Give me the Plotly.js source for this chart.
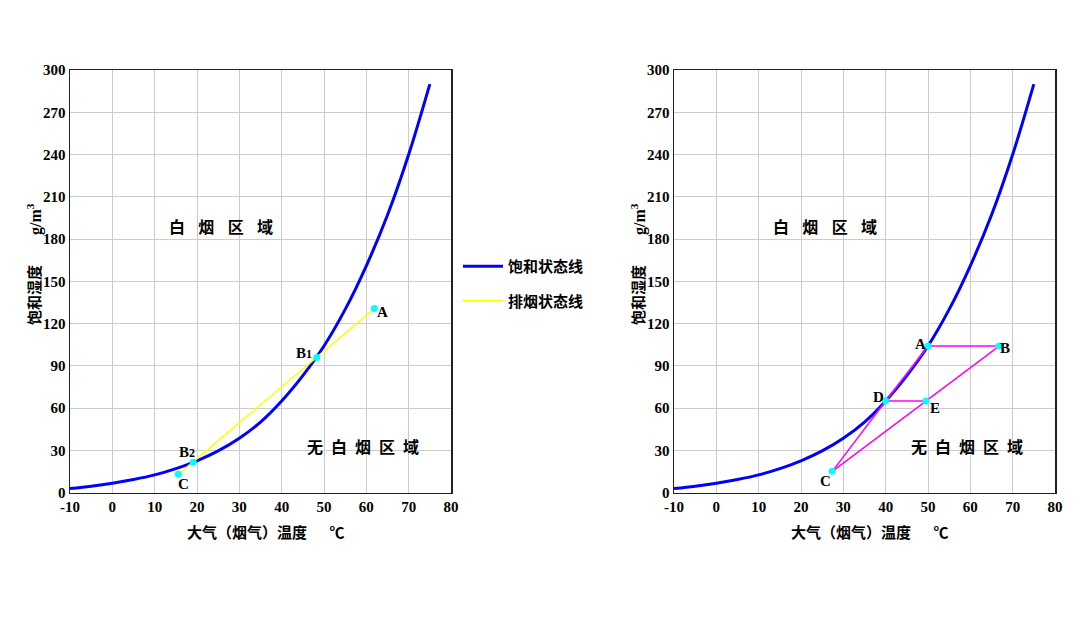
<!DOCTYPE html>
<html>
<head>
<meta charset="utf-8">
<script src="https://cdn.plot.ly/plotly-3.0.1.min.js"></script>
<style>html,body{margin:0;padding:0;background:#fff;}#chart{width:1092px;height:624px;}</style>
</head>
<body>
<div id="chart"></div>
<script>
// ---- data ----
const curveTemp = [-10, -5, 0, 5, 10, 15, 20, 25, 30, 35, 40, 45, 50, 55, 60, 65, 70, 75];
const curveHum  = [2.8, 4.5, 6.6, 9.2, 12.5, 17, 22.5, 29.5, 38.5, 50, 65, 83, 104, 130, 161, 197, 240, 290];

const leftNames = ["A", "B1", "B2", "C"];
const leftTemp  = [61.9, 48.3, 19.1, 15.6];
const leftHum   = [130.6, 95.9, 21.4, 12.9];

const rightNames = ["A", "B", "C", "D", "E"];
const rightTemp  = [50, 66.8, 27.4, 40, 49.5];
const rightHum   = [104, 104, 15, 65, 65];
// magenta segments drawn between these named points
const rightSegments = [["A","B"],["B","C"],["C","D"],["D","A"],["D","E"]];

const xTickVals = [-10, 0, 10, 20, 30, 40, 50, 60, 70, 80];
const xTickText = ["-10", "0", "10", "20", "30", "40", "50", "60", "70", "80"];
const yTickVals = [0, 30, 60, 90, 120, 150, 180, 210, 240, 270, 300];
const yTickText = ["0", "30", "60", "90", "120", "150", "180", "210", "240", "270", "300"];

const seriesNames = ["饱和状态线", "排烟状态线"];
const yTitleMain = "饱和湿度";
const yTitleUnit = "g/m<sup>3</sup>";
const xTitle = "大气（烟气）温度\u2003\u2002℃";
const whiteZone = "白\u2002\u2004烟\u2002\u2004区\u2002\u2004域";
const noWhiteZone = "无\u2002白\u2002烟\u2002区\u2002域";

// ---- helpers ----
const W = 1092, H = 624;
const px = v => v / W;
const py = v => 1 - v / H;
const CJK = "'Noto Sans CJK SC', 'Noto Sans', sans-serif";
const NUM = "'Liberation Serif', 'DejaVu Serif', serif";

const traces = [];
// left plot
traces.push({x: curveTemp, y: curveHum, xaxis: "x", yaxis: "y", mode: "lines", name: seriesNames[0],
  line: {color: "#0000ff", width: 3, shape: "spline", smoothing: 1}, legendgroup: "g1", showlegend: true});
traces.push({x: leftTemp, y: leftHum, xaxis: "x", yaxis: "y", mode: "lines", name: seriesNames[1],
  line: {color: "#ffff00", width: 1.5}, legendgroup: "g2", showlegend: true});
traces.push({x: leftTemp, y: leftHum, xaxis: "x", yaxis: "y", mode: "markers", showlegend: false,
  marker: {color: "#00ffff", size: 7}});
// right plot
traces.push({x: curveTemp, y: curveHum, xaxis: "x2", yaxis: "y2", mode: "lines", showlegend: false,
  line: {color: "#0000ff", width: 3, shape: "spline", smoothing: 1}});
const segX = [], segY = [];
rightSegments.forEach(([a, b]) => {
  const i = rightNames.indexOf(a), j = rightNames.indexOf(b);
  segX.push(rightTemp[i], rightTemp[j], null);
  segY.push(rightHum[i], rightHum[j], null);
});
traces.push({x: segX, y: segY, xaxis: "x2", yaxis: "y2", mode: "lines", showlegend: false,
  line: {color: "#ff00ff", width: 1.5}, connectgaps: false});
traces.push({x: rightTemp, y: rightHum, xaxis: "x2", yaxis: "y2", mode: "markers", showlegend: false,
  marker: {color: "#00ffff", size: 7}});

function xa(domain, anchor) {
  return {domain: domain, anchor: anchor, range: [-10, 80], tickmode: "array", tickvals: xTickVals, ticktext: xTickText,
    showgrid: true, gridcolor: "#cccccc", gridwidth: 1, zeroline: false, showline: true, linecolor: "#222",
    linewidth: 1.5, mirror: true, ticks: "", tickfont: {family: NUM, size: 15, color: "#000", weight: "bold"},
    fixedrange: true};
}
function ya(anchor) {
  return {domain: [py(492.5), py(70)], range: [0, 300], tickmode: "array", tickvals: yTickVals, ticktext: yTickText,
    anchor: anchor, showgrid: true, gridcolor: "#cccccc", gridwidth: 1, zeroline: false, showline: true,
    linecolor: "#222", linewidth: 1.5, mirror: true, ticks: "", tickfont: {family: NUM, size: 15, color: "#000", weight: "bold"},
    fixedrange: true};
}

const ann = [];
function lbl(text, x, y, xr, yr, size, family, extra) {
  ann.push(Object.assign({text: text, x: x, y: y, xref: xr, yref: yr, showarrow: false,
    xanchor: "center", yanchor: "middle",
    font: {family: family, size: size, color: "#000", weight: "bold"}}, extra || {}));
}
// point labels left
const leftLabelPos = {A: [63.7, 128.5], B1: [45.2, 99], B2: [17.6, 28.7], C: [16.9, 6]};
leftNames.forEach(n => {
  const t = n.length > 1 ? n[0] + "<span style='font-size:12px'>" + n[1] + "</span>" : n;
  lbl(t, leftLabelPos[n][0], leftLabelPos[n][1], "x", "y", 15, NUM);
});
const rightLabelPos = {A: [48.3, 105.5], B: [68.1, 102.5], C: [25.9, 8.5], D: [38.4, 67.5], E: [51.7, 60]};
rightNames.forEach(n => lbl(n, rightLabelPos[n][0], rightLabelPos[n][1], "x2", "y2", 15, NUM));

// zone texts
lbl(whiteZone, 25.7, 189.5, "x", "y", 16, CJK);
lbl(noWhiteZone, 59.3, 32.7, "x", "y", 16, CJK);
lbl(whiteZone, 25.7, 189.5, "x2", "y2", 16, CJK);
lbl(noWhiteZone, 59.3, 32.7, "x2", "y2", 16, CJK);

// axis titles
[0, 604].forEach(off => {
  lbl(yTitleMain, px(33 + off), py(295), "paper", "paper", 15, CJK, {textangle: -90});
  lbl(yTitleUnit, px(35 + off), py(219), "paper", "paper", 16, NUM, {textangle: -90});
  lbl(xTitle, px(266 + off), py(531), "paper", "paper", 15, CJK);
});

const layout = {
  width: W, height: H, margin: {l: 0, r: 0, t: 0, b: 0}, paper_bgcolor: "#fff", plot_bgcolor: "#fff",
  showlegend: true,
  legend: {x: px(458), y: py(250), xanchor: "left", yanchor: "top", traceorder: "grouped", tracegroupgap: 12,
    itemwidth: 40, bgcolor: "rgba(0,0,0,0)", font: {family: CJK, size: 15, color: "#000", weight: "bold"}},
  xaxis: xa([px(70), px(451)], "y"), yaxis: ya("x"),
  xaxis2: xa([px(674), px(1055)], "y2"), yaxis2: ya("x2"),
  annotations: ann
};
Plotly.newPlot("chart", traces, layout, {displayModeBar: false, staticPlot: true});
</script>
</body>
</html>
